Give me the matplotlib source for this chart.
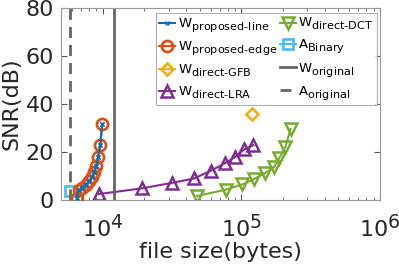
import matplotlib
matplotlib.use('Agg')
import matplotlib.pyplot as plt
import matplotlib._mathtext as mathtext_internal

# measured values (file size in bytes, SNR in dB)
edge_size = [6500, 6700, 7100, 7600, 8000, 8400, 8700, 9000, 9250, 9600, 9900]
edge_snr = [1.0, 4.0, 5.2, 6.4, 8.0, 9.6, 11.6, 14.3, 17.8, 22.9, 31.7]
line_size = edge_size
line_snr = edge_snr
gfb_size = [120000]
gfb_snr = [35.8]
lra_size = [9350, 19300, 31800, 45600, 60200, 75900, 90600, 105000, 122000]
lra_snr = [2.5, 4.9, 7.2, 9.0, 12.2, 15.3, 18.0, 21.1, 22.9]
dct_size = [48000, 77800, 101600, 124000, 149000, 173000, 188000, 208000, 227000]
dct_snr = [1.7, 4.4, 6.5, 8.8, 11.3, 13.8, 17.5, 22.1, 29.6]
binary_size = [5800]
binary_snr = [3.9]
w_original = 12000
a_original = 5800

BLUE = '#0072BD'
ORANGE = '#D95319'
YELLOW = '#EDB120'
PURPLE = '#7E2F8E'
GREEN = '#77AC30'
CYAN = '#4DBEEE'
GRAY = '#666666'

# legend subscripts are nearly full size and dropped lower in the original
mathtext_internal.SHRINK_FACTOR = 0.85
mathtext_internal.DejaVuSansFontConstants.sub1 = 0.45

plt.rcParams['font.family'] = ['DejaVu Sans']
plt.rcParams['mathtext.fontset'] = 'dejavusans'

fig = plt.figure(figsize=(3.99, 2.70), dpi=100)
ax = fig.add_axes([0.153, 0.259, 0.799, 0.711])

ax.plot(line_size, line_snr, color=BLUE, marker='x', ms=3, lw=1.5,
        label=r'W$_{\mathrm{proposed\text{-}line}}$', zorder=4)
ax.plot(edge_size, edge_snr, color=ORANGE, marker='o', ms=8, mfc='none',
        mew=2, lw=1.5, label=r'W$_{\mathrm{proposed\text{-}edge}}$', zorder=3)
ax.plot(line_size, line_snr, color=BLUE, marker='x', ms=3, lw=0, zorder=5)
ax.plot(gfb_size, gfb_snr, color=YELLOW, marker='D', ms=6, mfc='none',
        mew=2, lw=1.5, label=r'W$_{\mathrm{direct\text{-}GFB}}$')
ax.plot(lra_size, lra_snr, color=PURPLE, marker='^', ms=8, mfc='none',
        mew=1.8, lw=1.5, label=r'W$_{\mathrm{direct\text{-}LRA}}$')
ax.plot(dct_size, dct_snr, color=GREEN, marker='v', ms=8, mfc='none',
        mew=1.8, lw=1.5, label=r'W$_{\mathrm{direct\text{-}DCT}}$')
ax.plot(binary_size, binary_snr, color=CYAN, marker='s', ms=7, mfc='none',
        mew=2, lw=1.5, label=r'A$_{\mathrm{Binary}}$')
ax.axvline(w_original, color=GRAY, lw=2, label=r'W$_{\mathrm{original}}$')
ax.axvline(a_original, color=GRAY, lw=2, ls=(0, (4, 2.5)),
           label=r'A$_{\mathrm{original}}$')

ax.set_xscale('log')
ax.set_xlim(5000, 1e6)
ax.set_ylim(0, 80)
ax.set_yticks([0, 20, 40, 60, 80])
ax.set_xticks([1e4, 1e5, 1e6])
ax.tick_params(which='both', direction='in', top=True, right=True,
               color='#555555', labelcolor='#262626')
ax.tick_params(which='major', labelsize=16, length=4, pad=5)
ax.tick_params(axis='x', which='major', pad=10)
ax.tick_params(which='minor', length=2)
for s in ax.spines.values():
    s.set_color('#999999')
    s.set_linewidth(0.8)

ax.set_xlabel('file size(bytes)', fontsize=16, labelpad=1, color='#262626')
ax.set_ylabel('SNR(dB)', fontsize=16, labelpad=3, color='#262626')

leg = ax.legend(ncol=2, loc='upper right', bbox_to_anchor=(0.99, 0.975),
                fontsize=9.5, frameon=True, fancybox=False, handlelength=1.2,
                handletextpad=0.2, columnspacing=0.2, labelspacing=0.42,
                borderpad=0.25, borderaxespad=0)
leg.get_frame().set_edgecolor('#999999')
leg.get_frame().set_linewidth(0.8)

fig.savefig('out.png', dpi=100)
